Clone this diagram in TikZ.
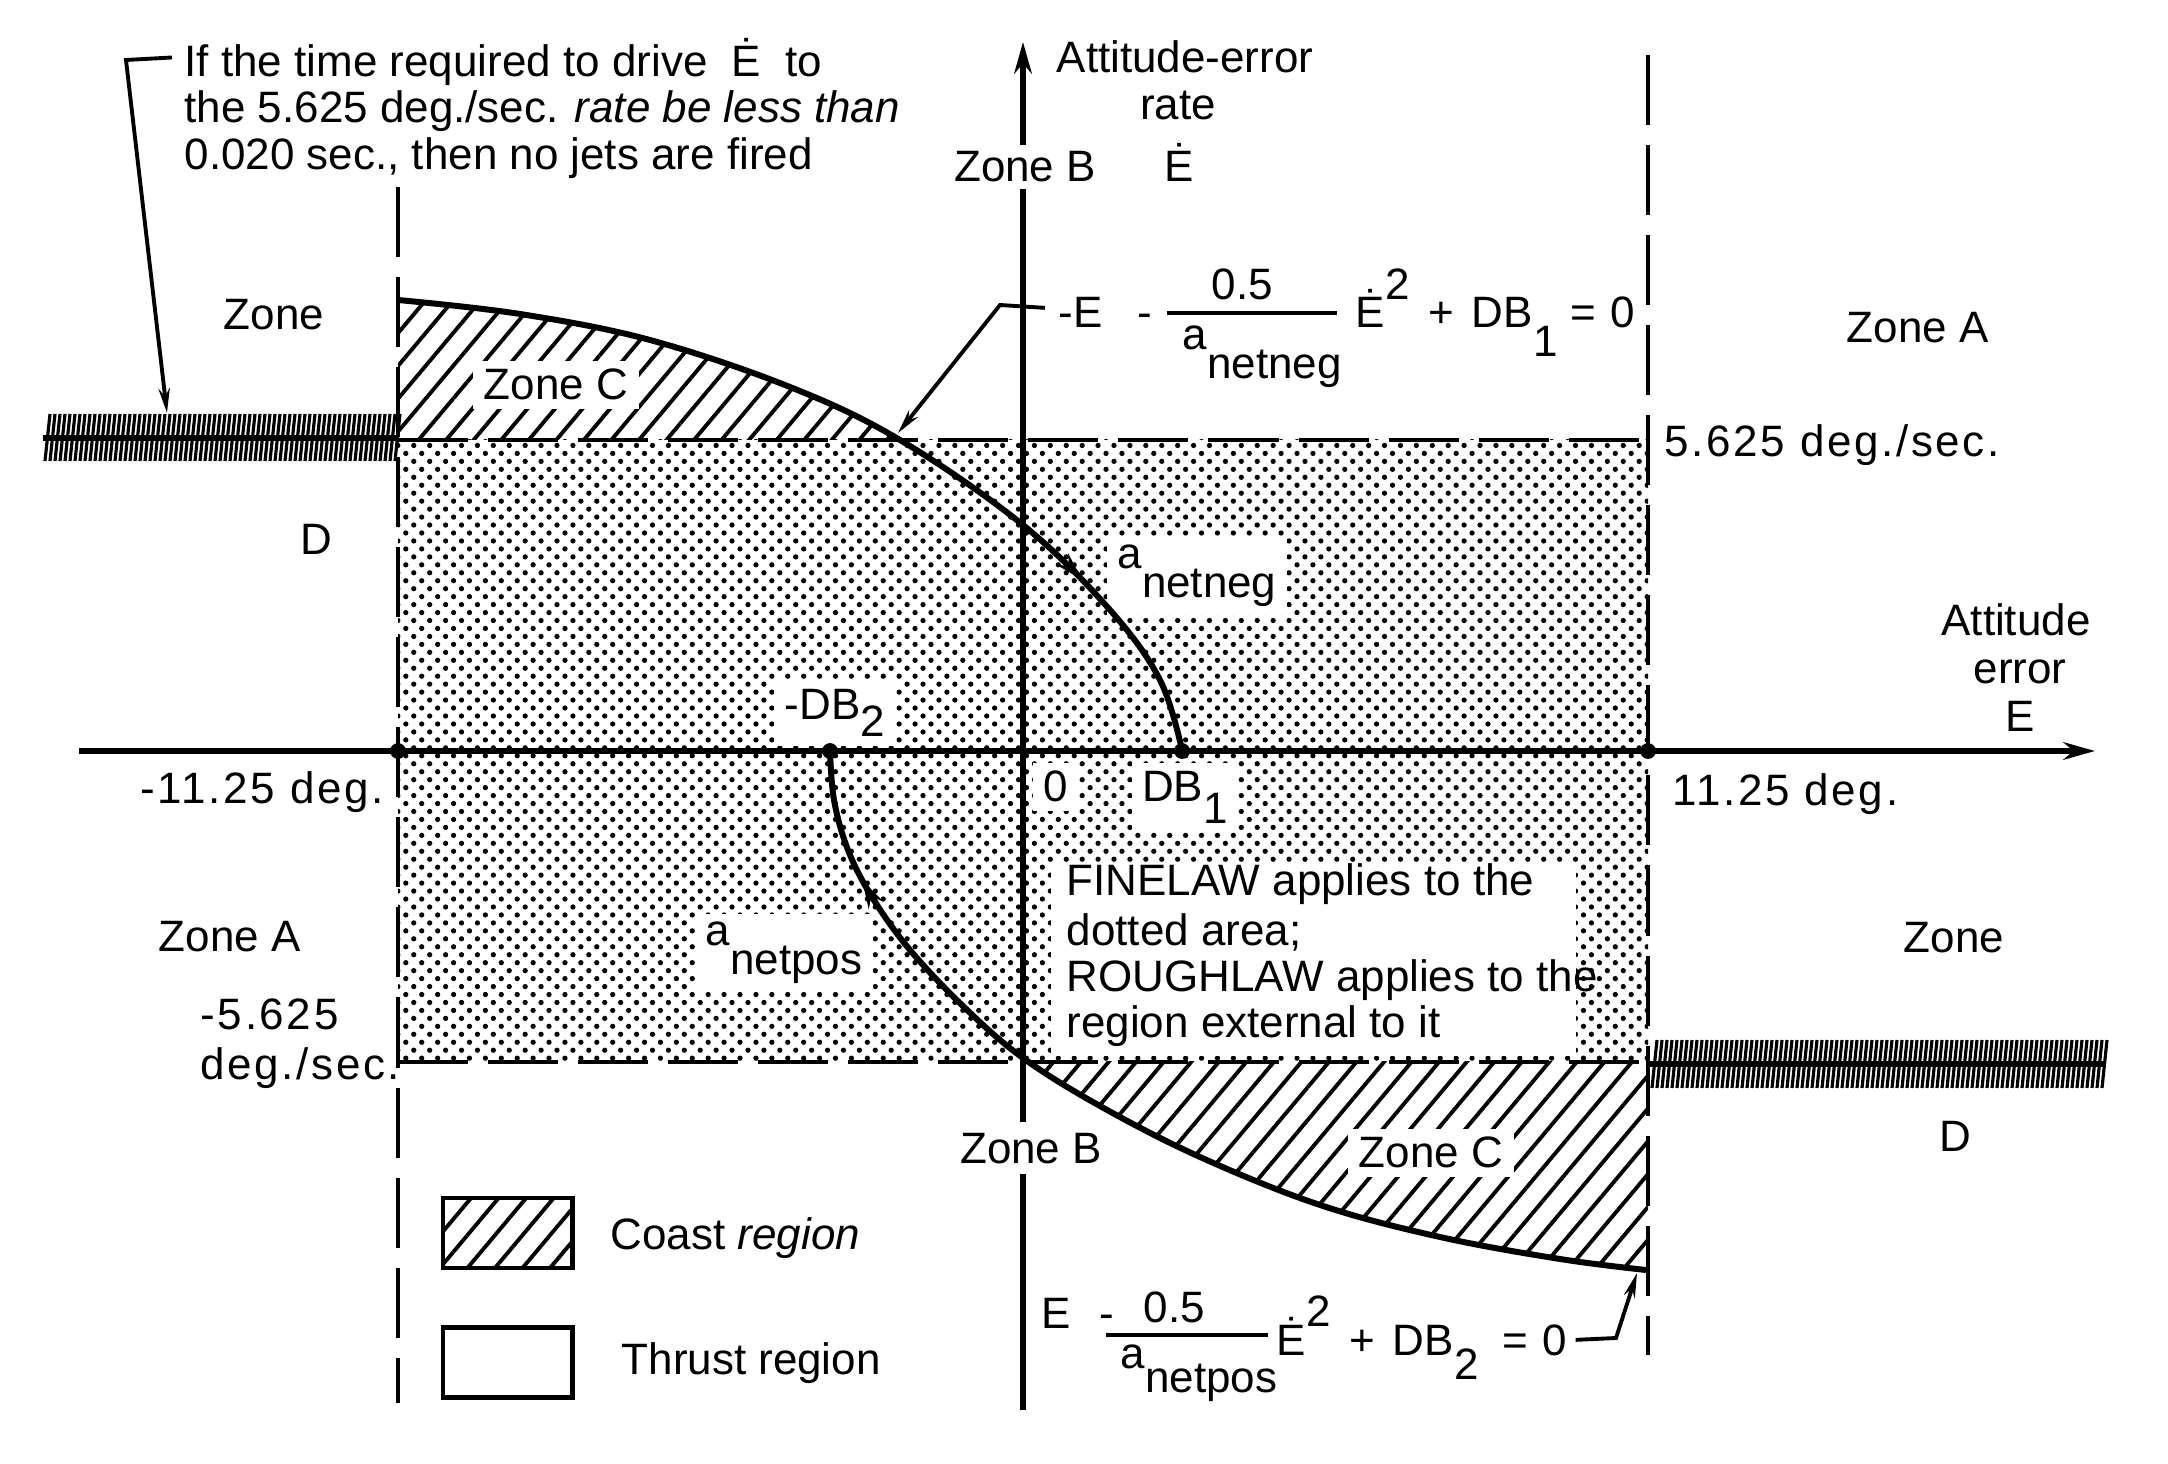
\documentclass[tikz,border=0pt]{standalone}
\usepackage{fontspec}
\setmainfont{Liberation Sans}
\newfontfamily\spacedfont{Liberation Sans}[LetterSpace=6]
\usetikzlibrary{arrows.meta,patterns.meta,decorations.markings}
\newcommand\lblfont{\fontsize{12.5}{13.3}\selectfont}
\begin{document}
\begin{tikzpicture}[x=0.01cm,y=-0.01cm,
  lbl/.style={font=\lblfont, inner sep=0pt, anchor=base west},
  nlbl/.style={font=\spacedfont\lblfont, inner sep=0pt, anchor=base west},
  clbl/.style={font=\lblfont, inner sep=0pt, anchor=base},
  wlbl/.style={font=\lblfont, inner xsep=3pt, inner ysep=2.5pt, anchor=base, fill=white},
  dashln/.style={line width=1.3pt, dash pattern=on 7mm off 2mm},
  axisln/.style={line width=1.6pt, -{Stealth[length=9pt,width=5pt]}},
  curveln/.style={line width=1.7pt},
  leader/.style={line width=1.1pt, -{Stealth[length=7pt,width=3.2pt]}},
  axdot/.style={circle, fill=black, inner sep=0pt, minimum size=4.5pt},
  hatchfill/.style={pattern={Lines[angle=50,distance=6pt,line width=1.1pt]}},
  dotfill/.style={pattern={Dots[angle=45,distance=3.2pt,radius=0.75pt]}},
  bandln/.style={line width=0.9pt},
  legbox/.style={draw, line width=1.4pt, minimum width=1.29cm, minimum height=0.7cm, inner sep=0pt}
]
\useasboundingbox (0,0) rectangle (2168,1464);

% dotted FINELAW area
\fill[dotfill] (398,440) rectangle (1648,1062);

% upper coast region (hatched)
\begin{scope}
  \clip (398,200) rectangle (1648,440);
  \fill[hatchfill] plot[smooth,tension=0.6] coordinates {(398,300) (520,314) (650,340) (790,387) (900,440) (1023,525) (1110,610) (1160,680) (1182,750)} -- (398,751) -- cycle;
\end{scope}
% lower coast region (hatched)
\begin{scope}
  \clip (398,1062) rectangle (1648,1420);
  \fill[hatchfill] plot[smooth,tension=0.6] coordinates {(830,750) (834,800) (848,850) (872,897) (910,950) (965,1008) (1023,1058) (1100,1106) (1200,1157) (1320,1205) (1440,1237) (1560,1259) (1646,1270)} -- (1660,1290) -- (1660,700) -- cycle;
\end{scope}

% white label boxes inside the shaded areas
\node[wlbl] (zcu) at (556,400) {Zone C};
\node[wlbl] (zcl) at (1431,1168) {Zone C};
\node[wlbl] (mdb2) at (835,720) {-DB\raisebox{-4.8pt}{2}};
\node[wlbl] (zero) at (1056,802) {0};
\node[wlbl] (db1) at (1185,802) {DB\raisebox{-6pt}{1}};
\node[wlbl] (aneg) at (1197,569) {a\raisebox{-8pt}{netneg}};
\node[wlbl] (apos) at (784,946) {a\raisebox{-8pt}{netpos}};
\node[fill=white, inner sep=0pt, minimum width=5.25cm, minimum height=1.93cm, anchor=north west] (finebox) at (1050,862) {};
\node[lbl] (fl1) at (1066,896) {FINELAW applies to the};
\node[lbl] (fl2) at (1066,946) {dotted area;};
\node[lbl] (fl3) at (1066,992) {ROUGHLAW applies to the};
\node[lbl] (fl4) at (1066,1038) {region external to it};

% hatched boundary bands
\foreach \k in {0,...,70} \draw[bandln] ({45+5*\k},461) -- ({50+5*\k},414);
\draw[line width=1.6pt] (43,438) -- (398,438);
\foreach \k in {0,...,90} \draw[bandln] ({1652+5*\k},1088) -- ({1657+5*\k},1040);
\draw[line width=1.6pt] (1648,1064) -- (2105,1064);

% dashed limits
\draw[dashln] (398,440) -- (1648,440);
\draw[dashln] (398,1062) -- (1648,1062);
\draw[dashln] (398,187) -- (398,1403);
\draw[dashln] (1648,55) -- (1648,1355);

% axes
\draw[axisln] (79,751) -- (2095,751);
\draw[axisln] (1023,1410) -- (1023,42);

% switching curves
\draw[curveln, postaction={decorate}, decoration={markings, mark=at position 0.79 with {\arrow{Stealth[length=8pt,width=4.5pt]}}}]
  plot[smooth,tension=0.6] coordinates {(398,300) (520,314) (650,340) (790,387) (900,440) (1023,525) (1110,610) (1160,680) (1182,750)};
\draw[curveln, postaction={decorate}, decoration={markings, mark=at position 0.13 with {\arrowreversed{Stealth[length=8pt,width=4.5pt]}}}]
  plot[smooth,tension=0.6] coordinates {(830,750) (834,800) (848,850) (872,897) (910,950) (965,1008) (1023,1058) (1100,1106) (1200,1157) (1320,1205) (1440,1237) (1560,1259) (1646,1270)};

% axis points
\node[axdot] (pl) at (398,751) {};
\node[axdot] (pdb2) at (830,751) {};
\node[axdot] (pdb1) at (1182,751) {};
\node[axdot] (pr) at (1648,751) {};

% zone labels on the vertical axis
\node[wlbl, inner ysep=2pt] (zbu) at (1025,182) {Zone B};
\node[wlbl, inner ysep=3pt] (zbl) at (1031,1163) {Zone B};

% note at top left
\node[lbl] (note1) at (184,77) {If the time required to drive\hspace{0.55em}Ė\hspace{0.55em}to};
\node[lbl] (note2) at (184,123) {the 5.625 deg./sec. \textit{rate be less than}};
\node[lbl] (note3) at (184,170) {0.020 sec., then no jets are fired};
\coordinate (nbend) at (126,60);
\coordinate (ntip) at (167,413);
\draw[leader] ([xshift=-0.12cm,yshift=0.05cm]note1.west) -- (nbend) -- (ntip);

% axis titles
\node[clbl] (yt1) at (1185,73) {Attitude-error};
\node[clbl] (yt2) at (1178,120) {rate};
\node[clbl] (yt3) at (1179,182) {Ė};
\node[clbl] (xt1) at (2016,636) {Attitude};
\node[clbl] (xt2) at (2020,684) {error};
\node[clbl] (xt3) at (2020,732) {E};

% other labels
\node[lbl] (zul) at (223,330) {Zone};
\node[lbl] (zar) at (1846,343) {Zone A};
\node[nlbl] (rpos) at (1664,457) {5.625 deg./sec.};
\node[lbl] (dl) at (300,555) {D};
\node[nlbl] (eneg) at (140,804) {-11.25 deg.};
\node[nlbl] (epos) at (1672,806) {11.25 deg.};
\node[lbl] (zrr) at (1903,953) {Zone};
\node[lbl] (zal) at (158,952) {Zone A};
\node[nlbl] (rneg1) at (200,1030) {-5.625};
\node[nlbl] (rneg2) at (200,1080) {deg./sec.};
\node[lbl] (dr) at (1939,1152) {D};

% upper switching equation
\node[lbl] (eqA1) at (1058,328) {-E\hspace{10pt}-};
\node[lbl] (eqA2) at (1211,300) {0.5};
\node[lbl] (eqA3) at (1182,350) {a\raisebox{-8pt}{netneg}};
\node[lbl] (eqA4) at (1355,328) {Ė\raisebox{8pt}{2}};
\node[lbl] (eqA5) at (1428,328) {+\hspace{5pt}DB\raisebox{-8pt}{1}};
\node[lbl] (eqA6) at (1570,328) {=\hspace{4pt}0};
\draw[line width=1.3pt] (1167,313) -- (1337,313);
\coordinate (ubend) at (1000,305);
\coordinate (utip) at (898,433);
\draw[leader] ([xshift=-0.13cm,yshift=0.05cm]eqA1.west) -- (ubend) -- (utip);

% lower switching equation
\node[lbl] (eqB1) at (1041,1328) {E\hspace{8pt}-};
\node[lbl] (eqB2) at (1143,1323) {0.5};
\node[lbl] (eqB3) at (1120,1368) {a\raisebox{-7pt}{netpos}};
\node[lbl] (eqB4) at (1276,1355) {Ė\raisebox{8pt}{2}};
\node[lbl] (eqB5) at (1349,1355) {+\hspace{5pt}DB\raisebox{-7pt}{2}};
\node[lbl] (eqB6) at (1502,1355) {=\hspace{4pt}0};
\draw[line width=1.3pt] (1106,1335) -- (1268,1335);
\coordinate (lbend) at (1616,1338);
\coordinate (ltip) at (1637,1273);
\draw[leader] ([xshift=0.08cm]eqB6.east) -- (lbend) -- (ltip);

% legend
\node[legbox, hatchfill] (lcoast) at (507.5,1233) {};
\node[legbox] (lthrust) at (507.5,1362.5) {};
\node[lbl] (tcoast) at (610,1250) {Coast \textit{region}};
\node[lbl] (tthrust) at (621,1375) {Thrust region};
\end{tikzpicture}
\end{document}
